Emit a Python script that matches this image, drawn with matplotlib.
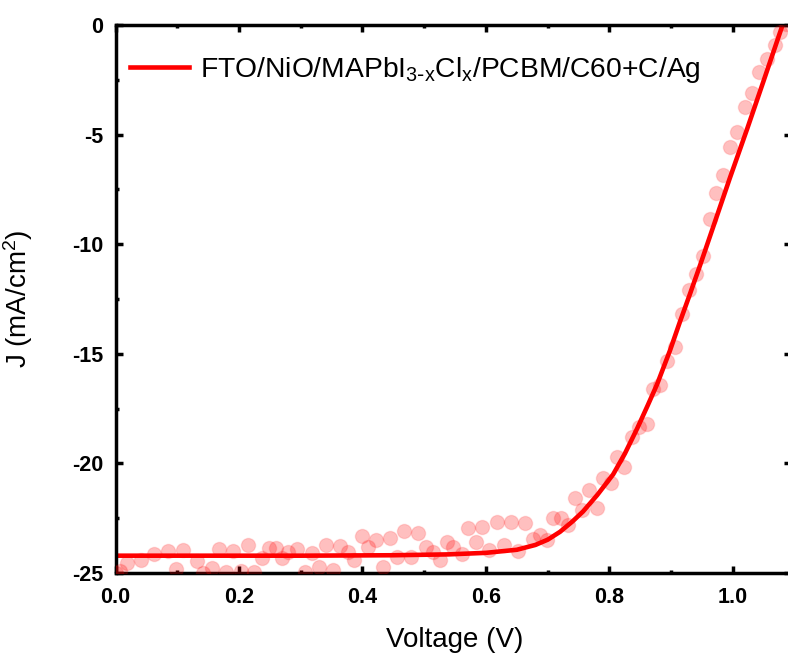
import matplotlib
matplotlib.use("Agg")
import matplotlib.pyplot as plt
from matplotlib.ticker import MultipleLocator

plt.rcParams['font.family'] = ['Liberation Sans', 'DejaVu Sans']
plt.rcParams['mathtext.default'] = 'regular'
plt.rcParams['axes.unicode_minus'] = False

# measured J-V points (V, mA/cm2)
v_meas = [0.000, 0.007, 0.019, 0.041, 0.062, 0.085, 0.098, 0.109, 0.132, 0.142,
          0.156, 0.168, 0.179, 0.190, 0.203, 0.215, 0.224, 0.237, 0.249, 0.260,
          0.270, 0.279, 0.294, 0.307, 0.318, 0.330, 0.341, 0.352, 0.364, 0.377,
          0.386, 0.399, 0.409, 0.422, 0.433, 0.445, 0.456, 0.467, 0.479, 0.490,
          0.503, 0.514, 0.526, 0.537, 0.547, 0.561, 0.571, 0.584, 0.594, 0.605,
          0.618, 0.629, 0.641, 0.652, 0.663, 0.676, 0.687, 0.699, 0.709, 0.721,
          0.733, 0.744, 0.755, 0.767, 0.780, 0.789, 0.802, 0.812, 0.823, 0.836,
          0.848, 0.861, 0.870, 0.882, 0.893, 0.906, 0.917, 0.929, 0.940, 0.951,
          0.963, 0.972, 0.984, 0.995, 1.006, 1.019, 1.031, 1.042, 1.055, 1.068,
          1.076, 1.086]
j_meas = [-25.00, -24.90, -24.53, -24.40, -24.12, -23.99, -24.81, -23.94, -24.44, -24.99,
          -24.76, -23.89, -24.94, -23.99, -24.90, -23.71, -24.94, -24.30, -23.85, -23.85,
          -24.30, -24.03, -23.89, -24.94, -24.08, -24.71, -23.71, -24.85, -23.76, -24.03,
          -24.40, -23.30, -23.80, -23.48, -24.71, -23.39, -24.26, -23.07, -24.26, -23.16,
          -23.80, -24.03, -24.40, -23.57, -23.80, -24.12, -22.94, -23.57, -22.89, -23.94,
          -22.66, -23.71, -22.66, -23.99, -22.71, -23.44, -23.26, -23.48, -22.48, -22.48,
          -22.80, -21.57, -22.12, -21.20, -22.02, -20.66, -20.88, -19.70, -20.16, -18.79,
          -18.33, -18.19, -16.60, -16.42, -15.32, -14.68, -13.18, -12.08, -11.35, -10.53,
          -8.85, -7.66, -6.84, -5.56, -4.88, -3.74, -3.10, -2.14, -1.55, -0.91,
          -0.32, 0.05]

# fitted curve
v_fit = [0.0, 0.30, 0.45, 0.54, 0.60, 0.65, 0.68, 0.70, 0.72, 0.74, 0.757,
         0.78, 0.806, 0.825, 0.845, 0.862, 0.877, 0.898, 0.914, 0.930, 0.947,
         0.968, 0.995, 1.023, 1.049, 1.076, 1.095]
j_fit = [-24.21, -24.21, -24.19, -24.15, -24.08, -23.94, -23.72, -23.48, -23.12, -22.65,
         -22.20, -21.45, -20.50, -19.55, -18.40, -17.35, -16.40, -14.85, -13.55, -12.30,
         -10.94, -9.21, -6.98, -4.74, -2.60, -0.36, 1.20]

fig = plt.figure(figsize=(7.88, 6.53), dpi=100)
ax = fig.add_axes([115.5 / 788, 1 - 573 / 653, 675.5 / 788, 548 / 653])

ax.plot(v_fit, j_fit, color='red', lw=3.3, zorder=2,
        label='FTO/NiO/MAPbI$_{3\\text{-}x}$Cl$_x$/PCBM/C60+C/Ag')
ax.scatter(v_meas, j_meas, s=105, facecolor=(1, 0, 0, 0.25),
           edgecolors=(1, 0, 0, 0.12), linewidths=1.0, zorder=3)

ax.set_xlim(0, 1.094)
ax.set_ylim(-25, 0)
ax.xaxis.set_minor_locator(MultipleLocator(0.1))
ax.yaxis.set_major_locator(MultipleLocator(5))
ax.yaxis.set_minor_locator(MultipleLocator(2.5))
ax.set_xticks([0, 0.2, 0.4, 0.6, 0.8, 1.0])
ax.set_xticklabels(['0.0', '0.2', '0.4', '0.6', '0.8', '1.0'])

for s in ax.spines.values():
    s.set_linewidth(2.5)
ax.tick_params(which='both', direction='in', top=True, right=True, width=2.5)
ax.tick_params(which='major', length=5, labelsize=15.5, pad=9)
ax.tick_params(axis='x', which='major', pad=10)
ax.tick_params(which='minor', length=2.5)
for lab in ax.get_xticklabels() + ax.get_yticklabels():
    lab.set_fontweight('bold')

ax.set_xlabel('Voltage (V)', fontsize=20)
ax.set_ylabel('J (mA/cm$^2$)', fontsize=20)
ax.xaxis.set_label_coords(0.5026, -0.099)
ax.yaxis.set_label_coords(-0.119, 0.50)

ax.legend(loc='upper left', bbox_to_anchor=(-0.008, 0.981), frameon=False, fontsize=20.3,
          handlelength=2.1, handletextpad=0.4, borderaxespad=0.3)

fig.savefig('out.png', dpi=100)
